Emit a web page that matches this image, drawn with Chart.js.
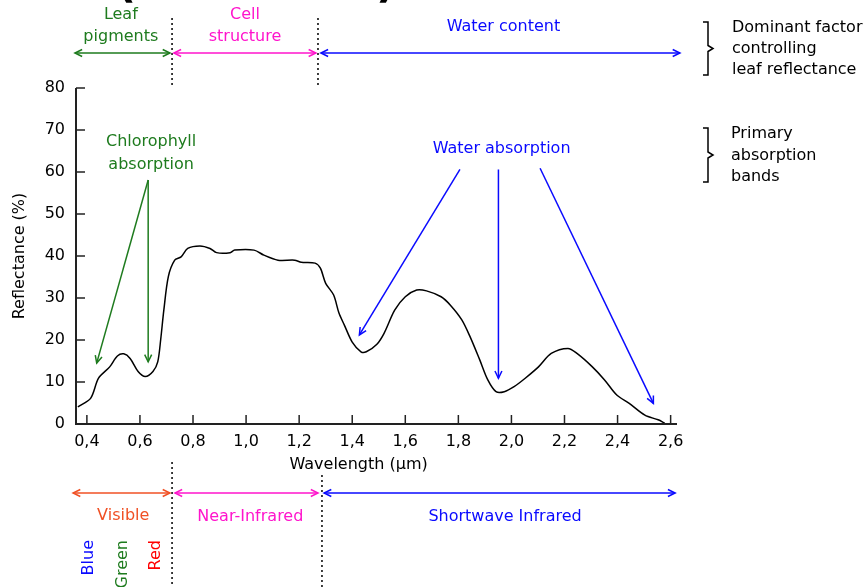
<!DOCTYPE html>
<html>
<head>
<meta charset="utf-8">
<title>Leaf reflectance</title>
<script src="https://cdn.jsdelivr.net/npm/chart.js@4.4.1/dist/chart.umd.min.js"></script>
<style>
    html, body { margin: 0; padding: 0; background: #fff; }
    #wrap { position: relative; width: 866px; height: 587px; }
</style>
</head>
<body>
<div id="wrap"><canvas id="reflectanceChart"></canvas></div>
<script>
// Reflectance curve of a green leaf
const wavelength = [0.366, 0.414, 0.444, 0.486, 0.515, 0.539, 0.563, 0.593, 0.620, 0.649,
    0.667, 0.678, 0.690, 0.707, 0.731, 0.755, 0.780, 0.826, 0.864, 0.889,
    0.940, 0.957, 1.030, 1.067, 1.120, 1.183, 1.208, 1.260, 1.280, 1.300,
    1.330, 1.350, 1.370, 1.400, 1.433, 1.453, 1.493, 1.520, 1.560, 1.600,
    1.643, 1.680, 1.735, 1.770, 1.813, 1.844, 1.881, 1.911, 1.942, 1.973,
    2.010, 2.052, 2.102, 2.150, 2.213, 2.247, 2.305, 2.351, 2.397, 2.444,
    2.503, 2.553, 2.578];
const reflectance = [4.1, 6.1, 10.9, 13.6, 16.2, 16.7, 15.6, 12.5, 11.3, 12.5,
    14.8, 20.0, 27.1, 35.1, 39.0, 39.8, 41.8, 42.4, 41.8, 40.8,
    40.8, 41.4, 41.4, 40.2, 39.0, 39.0, 38.5, 38.3, 37.1, 33.5,
    30.7, 26.4, 23.6, 19.5, 17.2, 17.2, 19.0, 21.6, 27.1, 30.3,
    31.9, 31.7, 30.3, 28.3, 24.8, 20.8, 15.2, 10.5, 7.7, 7.7,
    8.9, 10.9, 13.6, 16.8, 18.0, 16.8, 13.6, 10.5, 6.9, 4.9,
    2.1, 1.0, 0.2];

const xTicks = [0.4, 0.6, 0.8, 1.0, 1.2, 1.4, 1.6, 1.8, 2.0, 2.2, 2.4, 2.6];
const yTicks = [0, 10, 20, 30, 40, 50, 60, 70, 80];

// Band limits in µm
const factorLimits = [0.721, 1.271];
const regionLimits = [0.721, 1.286];

const FONT = '"DejaVu Sans", Arial, sans-serif';
const GREEN = '#1e7b1e';
const PINK = '#ff14cc';
const BLUE = '#0a0aff';
const ORANGE = '#f05024';
const RED = '#ff0000';

function arrowHead(ctx, fx, fy, tx, ty, size) {
    const a = Math.atan2(ty - fy, tx - fx);
    ctx.beginPath();
    ctx.moveTo(tx - size * Math.cos(a - 0.45), ty - size * Math.sin(a - 0.45));
    ctx.lineTo(tx, ty);
    ctx.lineTo(tx - size * Math.cos(a + 0.45), ty - size * Math.sin(a + 0.45));
    ctx.stroke();
}

function arrow(ctx, fx, fy, tx, ty, color, both) {
    ctx.strokeStyle = color;
    ctx.lineWidth = 1.5;
    ctx.setLineDash([]);
    ctx.beginPath();
    ctx.moveTo(fx, fy);
    ctx.lineTo(tx, ty);
    ctx.stroke();
    arrowHead(ctx, fx, fy, tx, ty, 8);
    if (both) arrowHead(ctx, tx, ty, fx, fy, 8);
}

function text(ctx, str, x, y, color, align) {
    ctx.fillStyle = color;
    ctx.textAlign = align || 'center';
    ctx.textBaseline = 'middle';
    ctx.fillText(str, x, y);
}

function dotted(ctx, x, y1, y2) {
    ctx.strokeStyle = '#000';
    ctx.lineWidth = 1.5;
    ctx.setLineDash([2, 3]);
    ctx.beginPath();
    ctx.moveTo(x, y1);
    ctx.lineTo(x, y2);
    ctx.stroke();
    ctx.setLineDash([]);
}

function brace(ctx, x, y1, y2) {
    const mid = (y1 + y2) / 2;
    ctx.strokeStyle = '#000';
    ctx.lineWidth = 1.5;
    ctx.beginPath();
    ctx.moveTo(x, y1);
    ctx.lineTo(x + 5, y1);
    ctx.lineTo(x + 5, mid - 3);
    ctx.lineTo(x + 10, mid);
    ctx.lineTo(x + 5, mid + 3);
    ctx.lineTo(x + 5, y2);
    ctx.lineTo(x, y2);
    ctx.stroke();
}

const annotations = {
    id: 'annotations',
    afterDraw(chart) {
        const ctx = chart.ctx;
        const xs = chart.scales.x;
        const ys = chart.scales.y;
        const px = v => xs.getPixelForValue(v);
        const py = v => ys.getPixelForValue(v);
        const area = chart.chartArea;

        ctx.save();
        ctx.font = '16px ' + FONT;

        // axes with inward ticks
        ctx.strokeStyle = '#222';
        ctx.lineWidth = 2;
        ctx.beginPath();
        ctx.moveTo(area.left, area.top);
        ctx.lineTo(area.left, area.bottom);
        ctx.lineTo(area.right, area.bottom);
        ctx.stroke();
        ctx.lineWidth = 1.5;
        xTicks.forEach(v => {
            ctx.beginPath();
            ctx.moveTo(px(v), area.bottom);
            ctx.lineTo(px(v), area.bottom - 9);
            ctx.stroke();
        });
        yTicks.forEach(v => {
            ctx.beginPath();
            ctx.moveTo(area.left, py(v));
            ctx.lineTo(area.left + 9, py(v));
            ctx.stroke();
        });

        // axis titles
        text(ctx, 'Wavelength (µm)', px(1.424), 465, '#000');
        ctx.save();
        ctx.translate(20, py(40));
        ctx.rotate(-Math.PI / 2);
        text(ctx, 'Reflectance (%)', 0, 0, '#000');
        ctx.restore();

        // cropped title remains
        ctx.font = 'bold 44px ' + FONT;
        ctx.fillStyle = '#000';
        ctx.textAlign = 'center';
        ctx.textBaseline = 'alphabetic';
        ctx.fillText('(', 126, -3);
        ctx.fillText(')', 386, -3);
        ctx.font = '16px ' + FONT;

        // dominant factor row
        dotted(ctx, px(factorLimits[0]), 18, 88);
        dotted(ctx, px(factorLimits[1]), 18, 88);
        arrow(ctx, px(0.355), 53, px(0.713), 53, GREEN, true);
        arrow(ctx, px(0.728), 53, px(1.263), 53, PINK, true);
        arrow(ctx, px(1.282), 53, px(2.635), 53, BLUE, true);
        text(ctx, 'Leaf', px(0.528), 15, GREEN);
        text(ctx, 'pigments', px(0.528), 37, GREEN);
        text(ctx, 'Cell', px(0.996), 15, PINK);
        text(ctx, 'structure', px(0.996), 37, PINK);
        text(ctx, 'Water content', px(1.970), 27, BLUE);

        // legend notes on the right
        brace(ctx, 703, 22, 75);
        text(ctx, 'Dominant factor', 732, 28, '#000', 'left');
        text(ctx, 'controlling', 732, 49, '#000', 'left');
        text(ctx, 'leaf reflectance', 732, 70, '#000', 'left');
        brace(ctx, 703, 128, 182);
        text(ctx, 'Primary', 731, 134, '#000', 'left');
        text(ctx, 'absorption', 731, 156, '#000', 'left');
        text(ctx, 'bands', 731, 177, '#000', 'left');

        // chlorophyll absorption
        text(ctx, 'Chlorophyll', px(0.642), py(67.1), GREEN);
        text(ctx, 'absorption', px(0.642), py(61.7), GREEN);
        arrow(ctx, px(0.631), py(58.1), px(0.437), py(14.5), GREEN);
        arrow(ctx, px(0.631), py(58.1), px(0.631), py(14.8), GREEN);

        // water absorption
        text(ctx, 'Water absorption', px(1.963), py(65.6), BLUE);
        arrow(ctx, px(1.806), py(60.6), px(1.427), py(21.2), BLUE);
        arrow(ctx, px(1.951), py(60.6), px(1.951), py(10.9), BLUE);
        arrow(ctx, px(2.108), py(60.9), px(2.535), py(4.9), BLUE);

        // spectral regions row
        dotted(ctx, px(regionLimits[0]), 462, 587);
        dotted(ctx, px(regionLimits[1]), 475, 587);
        arrow(ctx, px(0.348), 493, px(0.713), 493, ORANGE, true);
        arrow(ctx, px(0.732), 493, px(1.271), 493, PINK, true);
        arrow(ctx, px(1.294), 493, px(2.617), 493, BLUE, true);
        text(ctx, 'Visible', px(0.537), 516, ORANGE);
        text(ctx, 'Near-Infrared', px(1.016), 517, PINK);
        text(ctx, 'Shortwave Infrared', px(1.976), 517, BLUE);

        [['Blue', 0.408, BLUE], ['Green', 0.536, GREEN], ['Red', 0.659, RED]].forEach(([s, v, c]) => {
            ctx.save();
            ctx.translate(px(v), 540);
            ctx.rotate(-Math.PI / 2);
            text(ctx, s, 0, 0, c, 'right');
            ctx.restore();
        });

        ctx.restore();
    }
};

const ctx = document.getElementById('reflectanceChart');
new Chart(ctx, {
    type: 'line',
    data: {
        datasets: [{
            label: 'Reflectance',
            data: wavelength.map((w, i) => ({ x: w, y: reflectance[i] })),
            borderColor: '#000',
            borderWidth: 1.5,
            pointRadius: 0,
            tension: 0.3,
            fill: false
        }]
    },
    options: {
        responsive: true,
        maintainAspectRatio: false,
        animation: false,
        layout: {
            padding: { left: 0, top: 88, right: 189, bottom: 0 }
        },
        plugins: {
            legend: { display: false },
            tooltip: { enabled: false }
        },
        scales: {
            x: {
                type: 'linear',
                min: 0.359,
                max: 2.624,
                grid: { display: false },
                border: { display: false },
                afterBuildTicks: s => { s.ticks = xTicks.map(v => ({ value: v })); },
                afterFit: s => { s.height = 163; },
                ticks: {
                    autoSkip: false,
                    maxRotation: 0,
                    padding: 0,
                    color: '#000',
                    font: { family: FONT, size: 16 },
                    callback: v => v.toFixed(1).replace('.', ',')
                }
            },
            y: {
                min: 0,
                max: 80,
                grid: { display: false },
                border: { display: false },
                afterBuildTicks: s => { s.ticks = yTicks.map(v => ({ value: v })); },
                afterFit: s => { s.width = 76; },
                ticks: {
                    padding: 3,
                    color: '#000',
                    font: { family: FONT, size: 16 }
                }
            }
        }
    },
    plugins: [annotations]
});
</script>
</body>
</html>
